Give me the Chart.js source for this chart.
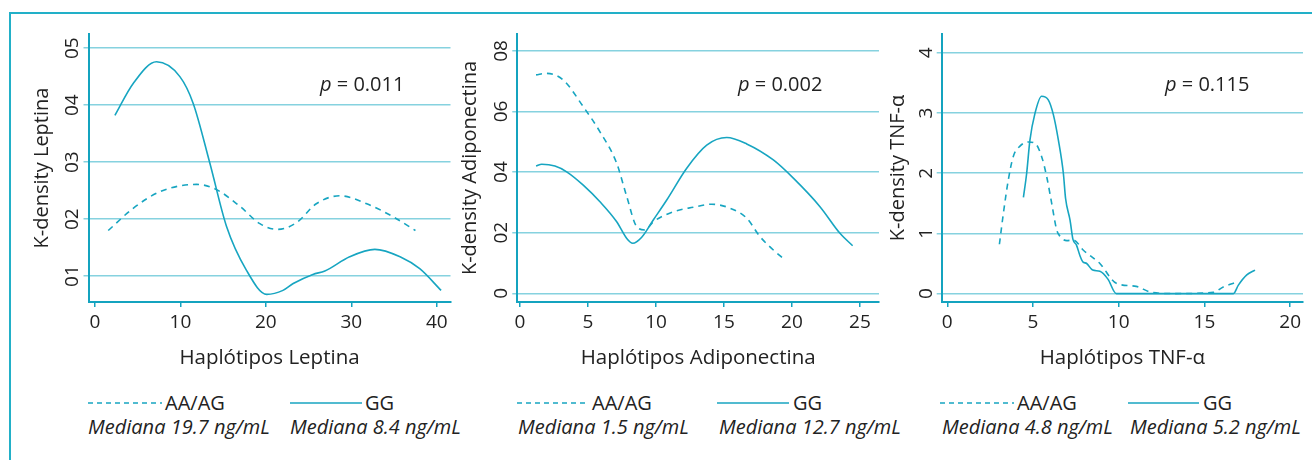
<!DOCTYPE html>
<html><head><meta charset="utf-8">
<script src="https://cdn.jsdelivr.net/npm/chart.js@4.4.1/dist/chart.umd.min.js"></script>
<style>
body{margin:0;background:#fff;width:1312px;height:460px;overflow:hidden;position:relative;font-family:'Open Sans',sans-serif;color:#222}
.frame{position:absolute;left:9px;top:12px;width:1400px;height:500px;border-left:2px solid #22b0c8;border-top:2px solid #22b0c8}
canvas{position:absolute}
.t{position:absolute;white-space:nowrap;line-height:24px;font-size:20px;color:#222}
.m{font-style:italic;font-size:20px}
svg{position:absolute;left:0;top:0}
</style></head><body>
<div class="frame"></div>
<svg width="1312" height="460" id="leg"></svg>
<script>
// ---------- Panel 1: Leptina ----------
const lepX_AA = [1.56, 4.48, 7.6, 11.9, 14.2, 17.0, 19.3, 21.4, 23.6, 25.9, 28.65, 31.8, 34.9, 37.5];
const lepY_AA = [0.0180, 0.0219, 0.0248, 0.0261, 0.0252, 0.0222, 0.0192, 0.0182, 0.0194, 0.0227, 0.0241, 0.0227, 0.0204, 0.0180];
const lepX_GG = [2.34, 4.48, 7.21, 9.94, 11.5, 13.45, 15.4, 17.7, 20.1, 22.0, 23.2, 25.5, 26.9, 29.8, 32.75, 35.7, 38.0, 40.5];
const lepY_GG = [0.0382, 0.0438, 0.0476, 0.0450, 0.0403, 0.0298, 0.0187, 0.0111, 0.0068, 0.0075, 0.0087, 0.0103, 0.0109, 0.0134, 0.0147, 0.0134, 0.0113, 0.0075];
const lepXTicks = [0, 10, 20, 30, 40];
const lepXTickLabels = ["0", "10", "20", "30", "40"];
const lepYTicks = [0.01, 0.02, 0.03, 0.04, 0.05];
const lepYTickLabels = ["01", "02", "03", "04", "05"];

// ---------- Panel 2: Adiponectina ----------
const adiX_AA = [1.18, 1.96, 3.18, 4.65, 5.88, 7.11, 7.85, 8.58, 9.19, 9.80, 11.27, 12.74, 14.10, 15.44, 16.67, 17.65, 18.63, 19.49];
const adiY_AA = [0.0721, 0.0726, 0.0704, 0.0616, 0.0533, 0.0429, 0.0319, 0.0220, 0.0209, 0.0236, 0.0269, 0.0284, 0.0294, 0.0281, 0.0248, 0.0187, 0.0143, 0.0110];
const adiX_GG = [1.18, 1.60, 2.57, 3.43, 4.65, 5.88, 7.11, 7.85, 8.29, 8.95, 9.80, 10.79, 12.26, 13.73, 15.20, 16.67, 18.63, 20.10, 22.06, 23.53, 24.46];
const adiY_GG = [0.0420, 0.0426, 0.0420, 0.0401, 0.0357, 0.0302, 0.0236, 0.0181, 0.0165, 0.0185, 0.0242, 0.0308, 0.0413, 0.0489, 0.0514, 0.0493, 0.0440, 0.0380, 0.0286, 0.0198, 0.0157];
const adiXTicks = [0, 5, 10, 15, 20, 25];
const adiXTickLabels = ["0", "5", "10", "15", "20", "25"];
const adiYTicks = [0, 0.02, 0.04, 0.06, 0.08];
const adiYTickLabels = ["0", "02", "04", "06", "08"];

// ---------- Panel 3: TNF-α ----------
const tnfX_AA = [3.04, 3.27, 3.56, 3.85, 4.24, 4.73, 5.11, 5.50, 5.80, 6.09, 6.38, 6.58, 6.97, 7.36, 7.94, 8.90, 9.86, 11.02, 11.90, 13.18, 15.52, 16.10, 16.78];
const tnfY_AA = [0.82, 1.33, 1.89, 2.28, 2.45, 2.52, 2.50, 2.28, 1.94, 1.50, 1.06, 0.95, 0.88, 0.89, 0.72, 0.50, 0.17, 0.12, 0.02, 0.0, 0.02, 0.11, 0.18];
const tnfX_GG = [4.44, 4.63, 4.82, 5.11, 5.50, 5.89, 6.19, 6.48, 6.77, 6.90, 7.16, 7.33, 7.53, 7.75, 7.90, 8.13, 8.48, 8.90, 9.37, 9.86, 16.69, 16.98, 17.47, 17.95];
const tnfY_GG = [1.60, 2.00, 2.55, 2.99, 3.28, 3.22, 2.97, 2.55, 2.00, 1.58, 1.22, 0.90, 0.81, 0.62, 0.53, 0.50, 0.39, 0.37, 0.24, 0.0, 0.0, 0.14, 0.31, 0.39];
const tnfXTicks = [0, 5, 10, 15, 20];
const tnfXTickLabels = ["0", "5", "10", "15", "20"];
const tnfYTicks = [0, 1, 2, 3, 4];
const tnfYTickLabels = ["0", "1", "2", "3", "4"];

const seriesNames = ["AA/AG", "GG"];
const medianLabels = [
  ["Mediana 19.7 ng/mL", "Mediana 8.4 ng/mL"],
  ["Mediana 1.5 ng/mL", "Mediana 12.7 ng/mL"],
  ["Mediana 4.8 ng/mL", "Mediana 5.2 ng/mL"]
];
const pValues = ["0.011", "0.002", "0.115"];
const xTitles = ["Haplótipos Leptina", "Haplótipos Adiponectina", "Haplótipos TNF-α"];
const yTitles = ["K-density Leptina", "K-density Adiponectina", "K-density TNF-α"];

const CURVE = '#17a5c1';
const AXIS = '#14a3bf';
const GRID = '#86d2df';
const TXT = '#222';
Chart.defaults.font.family = "'Open Sans', sans-serif";

function pts(xs, ys) { return xs.map((x, i) => ({x: x, y: ys[i]})); }

function panel(o) {
  const cv = document.createElement('canvas');
  cv.width = o.width; cv.height = 370;
  cv.style.left = o.left + 'px'; cv.style.top = '14px';
  document.body.appendChild(cv);
  new Chart(cv, {
    type: 'line',
    data: { datasets: [
      { label: seriesNames[0], data: pts(o.aaX, o.aaY), borderColor: CURVE, borderWidth: 1.6, borderDash: [6, 5], pointRadius: 0, cubicInterpolationMode: 'monotone', fill: false },
      { label: seriesNames[1], data: pts(o.ggX, o.ggY), borderColor: CURVE, borderWidth: 1.6, pointRadius: 0, cubicInterpolationMode: 'monotone', fill: false }
    ]},
    options: {
      responsive: false, animation: false, events: [],
      layout: { padding: { left: 0, top: 20, right: o.padRight, bottom: 0 } },
      plugins: { legend: { display: false }, tooltip: { enabled: false } },
      scales: {
        x: {
          type: 'linear', min: o.xMin, max: o.xMax,
          afterBuildTicks: s => { s.ticks = o.xTicks.map(v => ({value: v})); },
          afterFit: s => { s.height = 82; },
          ticks: { color: TXT, font: { size: 19 }, padding: 4, maxRotation: 0, autoSkip: false, callback: (v, i) => o.xTickLabels[i] },
          grid: { display: true, drawOnChartArea: false, drawTicks: true, tickLength: 5, color: AXIS, lineWidth: 1.5 },
          border: { display: true, color: AXIS, width: 2 },
          title: { display: true, text: o.xTitle, color: TXT, font: { size: 20.5 }, padding: { top: 0, bottom: 14 } }
        },
        y: {
          type: 'linear', min: o.yMin, max: o.yMax,
          afterBuildTicks: s => { s.ticks = o.yTicks.map(v => ({value: v})); },
          afterFit: s => { s.width = o.yW; },
          ticks: { color: TXT, font: { size: 19 }, padding: o.yPad, minRotation: 90, maxRotation: 90, crossAlign: 'center', autoSkip: false, callback: (v, i) => o.yTickLabels[i] },
          grid: { color: GRID, lineWidth: 1.5, drawTicks: true, tickLength: 5 },
          border: { display: true, color: AXIS, width: 2 },
          title: { display: true, text: o.yTitle, color: TXT, font: { size: 20 }, padding: { top: o.yTitlePad, bottom: 0 } }
        }
      }
    }
  });
}

panel({ left: 14, width: 444, padRight: 7.5, yW: 74.5, yPad: 0, yTitlePad: 16.5,
  aaX: lepX_AA, aaY: lepY_AA, ggX: lepX_GG, ggY: lepY_GG,
  xMin: -0.75, xMax: 41.6, yMin: 0.00546, yMax: 0.05248,
  xTicks: lepXTicks, xTickLabels: lepXTickLabels, yTicks: lepYTicks, yTickLabels: lepYTickLabels,
  xTitle: xTitles[0], yTitle: yTitles[0] });
panel({ left: 458, width: 426, padRight: 5, yW: 59.3, yPad: 0, yTitlePad: 0,
  aaX: adiX_AA, aaY: adiY_AA, ggX: adiX_GG, ggY: adiY_GG,
  xMin: -0.2, xMax: 26.4, yMin: -0.00287, yMax: 0.08558,
  xTicks: adiXTicks, xTickLabels: adiXTickLabels, yTicks: adiYTicks, yTickLabels: adiYTickLabels,
  xTitle: xTitles[1], yTitle: yTitles[1] });
panel({ left: 884, width: 428, padRight: 9, yW: 57.7, yPad: 4.6, yTitlePad: 2,
  aaX: tnfX_AA, aaY: tnfY_AA, ggX: tnfX_GG, ggY: tnfY_GG,
  xMin: -0.327, xMax: 20.75, yMin: -0.14, yMax: 4.314,
  xTicks: tnfXTicks, xTickLabels: tnfXTickLabels, yTicks: tnfYTicks, yTickLabels: tnfYTickLabels,
  xTitle: xTitles[2], yTitle: yTitles[2] });

// ---------- legends & annotations (HTML/SVG text) ----------
const legPos = [
  { d: [88, 162], aa: 165, s: [290, 362], gg: 365, m1: 88, m2: 290, p: 320 },
  { d: [517, 589], aa: 592, s: [717, 789], gg: 793, m1: 518, m2: 719, p: 738 },
  { d: [940, 1014], aa: 1017, s: [1128, 1199], gg: 1203, m1: 942, m2: 1130, p: 1165 }
];
const svg = document.getElementById('leg');
let svgHtml = '';
function addText(html, left, cy, cls) {
  const d = document.createElement('div');
  d.className = 't' + (cls ? ' ' + cls : '');
  d.style.left = left + 'px'; d.style.top = (cy - 12) + 'px';
  d.innerHTML = html;
  document.body.appendChild(d);
}
legPos.forEach((p, i) => {
  svgHtml += `<line x1="${p.d[0]}" y1="403" x2="${p.d[1]}" y2="403" stroke="${CURVE}" stroke-width="1.5" stroke-dasharray="5,4"/>`;
  svgHtml += `<line x1="${p.s[0]}" y1="403" x2="${p.s[1]}" y2="403" stroke="${CURVE}" stroke-width="1.5"/>`;
  addText(seriesNames[0], p.aa, 403);
  addText(seriesNames[1], p.gg, 403);
  addText(medianLabels[i][0], p.m1, 427, 'm');
  addText(medianLabels[i][1], p.m2, 427, 'm');
  addText('<i>p</i> = ' + pValues[i], p.p, 84);
});
svg.innerHTML = svgHtml;
</script>
</body></html>
